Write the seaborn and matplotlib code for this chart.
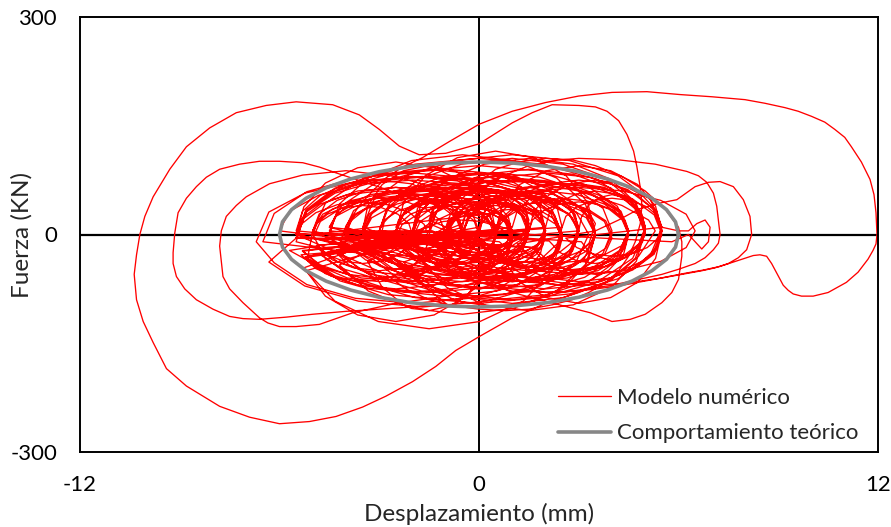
import numpy as np
import pandas as pd
import matplotlib
matplotlib.use("Agg")
import matplotlib.pyplot as plt
import seaborn as sns
from matplotlib.lines import Line2D

# Axis ticks (only the ends and zero carry a label)
x_ticks = [-12, -9, -6, -3, 0, 3, 6, 9, 12]
x_labels = ["-12", "", "", "", "0", "", "", "", "12"]
y_ticks = [-300, -200, -100, 0, 100, 200, 300]
y_labels = ["-300", "", "", "0", "", "", "300"]

# Numerical model trace in time order (mm, kN)
group_a_disp = [
    -1.0, -0.92, -0.71, -0.38, 0.0, 0.38, 0.71, 0.92, 1.0, 0.92, 0.71, 0.38, 0.0, -0.38, -0.71, -0.92,
    -1.0, -0.89, -0.56, -0.07, 0.5, 1.07, 1.56, 1.89, 2.0, 1.89, 1.56, 1.07, 0.5, -0.07, -0.56, -0.89,
    -2.5, -2.35, -1.91, -1.27, -0.5, 0.27, 0.91, 1.35, 1.5, 1.35, 0.91, 0.27, -0.5, -1.27, -1.91, -2.35,
    -2.0, -1.81, -1.27, -0.46, 0.5, 1.46, 2.27, 2.81, 3.0, 2.81, 2.27, 1.46, 0.5, -0.46, -1.27, -1.81,
    -4.0, -3.77, -3.12, -2.15, -1.0, 0.15, 1.12, 1.77, 2.0, 1.77, 1.12, 0.15, -1.0, -2.15, -3.12, -3.77,
    -2.5, -2.23, -1.47, -0.34, 1.0, 2.34, 3.47, 4.23, 4.5, 4.23, 3.47, 2.34, 1.0, -0.34, -1.47, -2.23]
group_a_force = [
    5, 16, 26, 33, 35, 33, 26, 16, 5, -6, -16, -23, -25, -23, -16, -6,
    0, 15, 28, 37, 40, 37, 28, 15, 0, -15, -28, -37, -40, -37, -28, -15,
    5, 24, 40, 51, 55, 51, 40, 24, 5, -14, -30, -41, -45, -41, -30, -14,
    0, 23, 42, 55, 60, 55, 42, 23, 0, -23, -42, -55, -60, -55, -42, -23,
    10, 33, 52, 65, 70, 65, 52, 33, 10, -13, -32, -45, -50, -45, -32, -13,
    5, 32, 54, 70, 75, 70, 54, 32, 5, -22, -44, -60, -65, -60, -44, -22]

big_left_disp = [
    -2.5, -2.2, -1.3, 0.0, 1.5, 3.0, 4.3, 5.1, 5.3, 4.8, 4.0, 3.0, 2.0, 1.0, 0.0, -0.7,
    -1.3, -2.0, -2.8, -3.5, -4.3, -5.1, -6.0, -6.9, -7.8, -8.8, -9.4, -9.8, -10.1, -10.3,
    -10.37, -10.3, -10.2, -10.05, -9.8, -9.3, -8.8, -8.1, -7.3, -6.4, -5.5, -4.4, -3.6,
    -3.0, -2.4, -1.8, -1.0, 0.0, 1.0, 1.6, 2.2, 3.0, 3.5, 3.85, 4.2, 4.45, 4.65, 4.75,
    4.85, 4.9, 4.85, 4.7, 4.5, 4.2, 3.8, 3.3, 2.8, 2.2, 1.5, 0.8, 0.0, -0.8, -1.5, -2.2, -2.8]
big_left_force = [
    5, 35, 60, 75, 72, 60, 40, 20, 5, -30, -62, -80, -95, -115, -141, -160,
    -182, -203, -223, -238, -251, -258, -261, -252, -237, -209, -185, -149, -120, -90,
    -55, -28, 0, 25, 52, 90, 121, 147, 168, 178, 183, 179, 165,
    145, 122, 110, 112, 125, 154, 168, 179, 178, 176, 170, 157, 138, 115, 93,
    65, 40, 15, -10, -30, -50, -67, -80, -90, -97, -103, -105, -103, -98, -90, -75, -55]

group_b_disp = [
    -5.5, -5.2, -4.33, -3.03, -1.5, 0.03, 1.33, 2.2, 2.5, 2.2, 1.33, 0.03, -1.5, -3.03, -4.33, -5.2,
    -1.5, -1.27, -0.62, 0.35, 1.5, 2.65, 3.62, 4.27, 4.5, 4.27, 3.62, 2.65, 1.5, 0.35, -0.62, -1.27]
group_b_force = [
    0, 31, 57, 74, 80, 74, 57, 31, 0, -31, -57, -74, -80, -74, -57, -31,
    5, 32, 54, 70, 75, 70, 54, 32, 5, -22, -44, -60, -65, -60, -44, -22]

big_right_disp = [
    -4.2, -4.0, -3.6, -3.2, -2.8, -2.3, -1.7, -0.9, 0.0, 1.0, 2.0, 3.0, 4.0, 5.05, 6.05,
    7.0, 8.0, 8.6, 9.2, 9.6, 10.0, 10.4, 10.7, 11.0, 11.2, 11.5, 11.76, 11.88, 11.94,
    11.97, 11.94, 11.85, 11.7, 11.4, 11.05, 10.5, 10.05, 9.7, 9.45, 9.3, 9.15, 8.95,
    8.8, 8.65, 8.45, 8.25, 8.05, 7.65, 7.25, 6.75, 6.25, 5.25, 4.2, 3.0, 2.0, 1.0, 0.0]
big_right_force = [
    -15, 12, 40, 60, 78, 93, 106, 128, 152, 170, 182, 191, 196, 197, 193,
    190, 186, 181, 175, 170, 163, 155, 145, 134, 121, 100, 76, 55, 30,
    0, -13, -22, -34, -52, -66, -80, -85, -85, -82, -77, -70, -53,
    -40, -30, -28, -29, -32, -38, -44, -49, -53, -62, -71, -78, -80, -75, -65]

group_c_disp = [
    -5.0, -4.77, -4.12, -3.15, -2.0, -0.85, 0.12, 0.77, 1.0, 0.77, 0.12, -0.85, -2.0, -3.15, -4.12, -4.77,
    0.0, 0.19, 0.73, 1.54, 2.5, 3.46, 4.27, 4.81, 5.0, 4.81, 4.27, 3.46, 2.5, 1.54, 0.73, 0.19,
    -4.5, -4.16, -3.18, -1.72, 0.0, 1.72, 3.18, 4.16, 4.5, 4.16, 3.18, 1.72, 0.0, -1.72, -3.18, -4.16,
    -3.0, -2.7, -1.83, -0.53, 1.0, 2.53, 3.83, 4.7, 5.0, 4.7, 3.83, 2.53, 1.0, -0.53, -1.83, -2.7]
group_c_force = [
    -5, 18, 37, 50, 55, 50, 37, 18, -5, -28, -47, -60, -65, -60, -47, -28,
    10, 33, 52, 65, 70, 65, 52, 33, 10, -13, -32, -45, -50, -45, -32, -13,
    5, 39, 69, 88, 95, 88, 69, 39, 5, -29, -59, -78, -85, -78, -59, -29,
    5, 43, 76, 97, 105, 97, 76, 43, 5, -33, -66, -87, -95, -87, -66, -33]

left_arc_1_disp = [-1.0, -2.0, -3.0, -4.0, -5.0, -5.8, -6.6, -7.1, -7.5, -8.0, -8.5, -8.85,
                   -9.1, -9.2, -9.2, -9.15, -9.05, -8.8, -8.5, -8.2, -7.8, -7.2, -6.6, -6.0,
                   -5.3, -4.8, -4.3, -3.3, -2.0, -0.5, 1.0]
left_arc_1_force = [-95, -100, -103, -106, -110, -114, -117, -116, -113, -103, -90, -75,
                    -58, -40, -25, 2, 30, 50, 66, 79, 90, 97, 101, 101,
                    99, 93, 85, 70, 50, 30, 5]

group_d_disp = [
    -5.5, -5.31, -4.77, -3.96, -3.0, -2.04, -1.23, -0.69, -0.5, -0.69, -1.23, -2.04, -3.0, -3.96, -4.77, -5.31,
    1.0, 1.15, 1.59, 2.23, 3.0, 3.77, 4.41, 4.85, 5.0, 4.85, 4.41, 3.77, 3.0, 2.23, 1.59, 1.15]
group_d_force = [
    0, 23, 42, 55, 60, 55, 42, 23, 0, -23, -42, -55, -60, -55, -42, -23,
    10, 33, 52, 65, 70, 65, 52, 33, 10, -13, -32, -45, -50, -45, -32, -13]

right_loop_1_disp = [3.5, 4.2, 4.8, 5.4, 5.95, 6.5, 6.9, 7.25, 7.65, 7.95, 8.15, 8.2, 8.05,
                     7.8, 7.5, 7.1, 6.7, 6.1, 5.5, 4.3, 3.0, 1.5]
right_loop_1_force = [5, 20, 35, 43, 48, 66, 72, 73, 66, 48, 25, 0, -21,
                      -32, -40, -46, -50, -55, -60, -68, -70, -60]

group_e_disp = [
    -4.0, -3.85, -3.41, -2.77, -2.0, -1.23, -0.59, -0.15, 0.0, -0.15, -0.59, -1.23, -2.0, -2.77, -3.41, -3.85,
    0.5, 0.61, 0.94, 1.43, 2.0, 2.57, 3.06, 3.39, 3.5, 3.39, 3.06, 2.57, 2.0, 1.43, 0.94, 0.61,
    -3.0, -2.77, -2.12, -1.15, 0.0, 1.15, 2.12, 2.77, 3.0, 2.77, 2.12, 1.15, 0.0, -1.15, -2.12, -2.77]
group_e_force = [
    0, 19, 35, 46, 50, 46, 35, 19, 0, -19, -35, -46, -50, -46, -35, -19,
    5, 20, 33, 42, 45, 42, 33, 20, 5, -10, -23, -32, -35, -32, -23, -10,
    5, 36, 62, 79, 85, 79, 62, 36, 5, -26, -52, -69, -75, -69, -52, -26]

left_arc_2_disp = [-1.0, -2.5, -3.8, -4.8, -5.5, -6.0, -6.35, -6.6, -7.1, -7.5, -7.7, -7.8,
                   -7.75, -7.6, -7.3, -7.0, -6.3, -5.3, -4.0, -2.5, -1.0, 0.5]
left_arc_2_force = [-85, -95, -108, -124, -127, -127, -122, -115, -94, -75, -58, -16,
                    5, 25, 40, 52, 70, 82, 88, 80, 60, 30]

group_f_disp = [
    -5.0, -4.85, -4.41, -3.77, -3.0, -2.23, -1.59, -1.15, -1.0, -1.15, -1.59, -2.23, -3.0, -3.77, -4.41, -4.85,
    2.0, 2.11, 2.44, 2.93, 3.5, 4.07, 4.56, 4.89, 5.0, 4.89, 4.56, 4.07, 3.5, 2.93, 2.44, 2.11]
group_f_force = [
    0, 19, 35, 46, 50, 46, 35, 19, 0, -19, -35, -46, -50, -46, -35, -19,
    10, 29, 45, 56, 60, 56, 45, 29, 10, -9, -25, -36, -40, -36, -25, -9]

right_loop_2_disp = [-1.0, -0.5, 0.0, 0.7, 1.5, 2.2, 3.0, 4.2, 5.3, 6.25, 6.6, 6.85, 7.05,
                     7.15, 7.25, 7.2, 7.05, 6.8, 6.5, 6.0, 5.5, 4.0, 2.5, 1.0, -0.5]
right_loop_2_force = [0, 35, 60, 80, 95, 102, 105, 103, 97, 87, 81, 72, 57,
                      39, 0, -12, -21, -32, -40, -48, -55, -70, -80, -78, -60]

group_g_disp = [
    -2.5, -2.39, -2.06, -1.57, -1.0, -0.43, 0.06, 0.39, 0.5, 0.39, 0.06, -0.43, -1.0, -1.57, -2.06, -2.39,
    0.0, 0.08, 0.29, 0.62, 1.0, 1.38, 1.71, 1.92, 2.0, 1.92, 1.71, 1.38, 1.0, 0.62, 0.29, 0.08,
    -5.5, -5.27, -4.62, -3.65, -2.5, -1.35, -0.38, 0.27, 0.5, 0.27, -0.38, -1.35, -2.5, -3.65, -4.62, -5.27,
    0.5, 0.69, 1.23, 2.04, 3.0, 3.96, 4.77, 5.31, 5.5, 5.31, 4.77, 3.96, 3.0, 2.04, 1.23, 0.69]
group_g_force = [
    0, 15, 28, 37, 40, 37, 28, 15, 0, -15, -28, -37, -40, -37, -28, -15,
    5, 16, 26, 33, 35, 33, 26, 16, 5, -6, -16, -23, -25, -23, -16, -6,
    -5, 22, 44, 60, 65, 60, 44, 22, -5, -32, -54, -70, -75, -70, -54, -32,
    5, 32, 54, 70, 75, 70, 54, 32, 5, -22, -44, -60, -65, -60, -44, -22]

right_loop_3_disp = [-1.0, -0.8, -0.5, 0.0, 0.5, 1.2, 2.0, 2.8, 3.5, 4.3, 5.0, 5.6, 6.0,
                     6.1, 6.1, 6.0, 5.8, 5.5, 5.0, 4.55, 4.0, 3.35, 2.5, 1.0, -0.5]
right_loop_3_force = [-10, 20, 50, 72, 90, 100, 105, 103, 95, 80, 60, 35, 10,
                      -10, -30, -62, -80, -94, -110, -117, -120, -108, -98, -80, -50]

group_h_disp = [
    -5.0, -4.62, -3.54, -1.92, 0.0, 1.92, 3.54, 4.62, 5.0, 4.62, 3.54, 1.92, 0.0, -1.92, -3.54, -4.62,
    -5.0, -4.89, -4.56, -4.07, -3.5, -2.93, -2.44, -2.11, -2.0, -2.11, -2.44, -2.93, -3.5, -4.07, -4.56, -4.89,
    2.5, 2.61, 2.94, 3.43, 4.0, 4.57, 5.06, 5.39, 5.5, 5.39, 5.06, 4.57, 4.0, 3.43, 2.94, 2.61]
group_h_force = [
    5, 43, 76, 97, 105, 97, 76, 43, 5, -33, -66, -87, -95, -87, -66, -33,
    0, 15, 28, 37, 40, 37, 28, 15, 0, -15, -28, -37, -40, -37, -28, -15,
    10, 25, 38, 47, 50, 47, 38, 25, 10, -5, -18, -27, -30, -27, -18, -5]

right_small_disp = [5.5, 6.0, 6.3, 6.55, 6.8, 6.95, 6.9, 6.7, 6.5, 6.3, 5.8]
right_small_force = [10, 5, 5, 15, 20, 10, -10, -20, -10, 0, -10]

group_i_disp = [
    -0.5, -0.23, 0.53, 1.66, 3.0, 4.34, 5.47, 6.23, 6.5, 6.23, 5.47, 4.34, 3.0, 1.66, 0.53, -0.23,
    -3.5, -3.31, -2.77, -1.96, -1.0, -0.04, 0.77, 1.31, 1.5, 1.31, 0.77, -0.04, -1.0, -1.96, -2.77, -3.31,
    -1.0, -0.81, -0.27, 0.54, 1.5, 2.46, 3.27, 3.81, 4.0, 3.81, 3.27, 2.46, 1.5, 0.54, -0.27, -0.81,
    -3.0, -2.73, -1.97, -0.84, 0.5, 1.84, 2.97, 3.73, 4.0, 3.73, 2.97, 1.84, 0.5, -0.84, -1.97, -2.73,
    -5.5, -5.23, -4.47, -3.34, -2.0, -0.66, 0.47, 1.23, 1.5, 1.23, 0.47, -0.66, -2.0, -3.34, -4.47, -5.23,
    -1.5, -1.23, -0.47, 0.66, 2.0, 3.34, 4.47, 5.23, 5.5, 5.23, 4.47, 3.34, 2.0, 0.66, -0.47, -1.23,
    -3.5, -3.16, -2.18, -0.72, 1.0, 2.72, 4.18, 5.16, 5.5, 5.16, 4.18, 2.72, 1.0, -0.72, -2.18, -3.16]
group_i_force = [
    5, 28, 47, 60, 65, 60, 47, 28, 5, -18, -37, -50, -55, -50, -37, -18,
    5, 28, 47, 60, 65, 60, 47, 28, 5, -18, -37, -50, -55, -50, -37, -18,
    0, 19, 35, 46, 50, 46, 35, 19, 0, -19, -35, -46, -50, -46, -35, -19,
    5, 36, 62, 79, 85, 79, 62, 36, 5, -26, -52, -69, -75, -69, -52, -26,
    0, 31, 57, 74, 80, 74, 57, 31, 0, -31, -57, -74, -80, -74, -57, -31,
    5, 36, 62, 79, 85, 79, 62, 36, 5, -26, -52, -69, -75, -69, -52, -26,
    10, 48, 81, 102, 110, 102, 81, 48, 10, -28, -61, -82, -90, -82, -61, -28]

group_j_disp = [
    -6.5, -6.16, -5.18, -3.72, -2.0, -0.28, 1.18, 2.16, 2.5, 2.16, 1.18, -0.28, -2.0, -3.72, -5.18, -6.16,
    -6.7, -6.32, -5.24, -3.62, -1.7, 0.22, 1.84, 2.92, 3.3, 2.92, 1.84, 0.22, -1.7, -3.62, -5.24, -6.32,
    -5.5, -5.16, -4.18, -2.72, -1.0, 0.72, 2.18, 3.16, 3.5, 3.16, 2.18, 0.72, -1.0, -2.72, -4.18, -5.16,
    -5.0, -4.81, -4.27, -3.46, -2.5, -1.54, -0.73, -0.19, 0.0, -0.19, -0.73, -1.54, -2.5, -3.46, -4.27, -4.81,
    -5.5, -5.2, -4.33, -3.03, -1.5, 0.03, 1.33, 2.2, 2.5, 2.2, 1.33, 0.03, -1.5, -3.03, -4.33, -5.2]
group_j_force = [
    -10, 29, 59, 78, 85, 78, 59, 29, -5, -39, -69, -88, -95, -88, -69, -39,
    -10, 31, 57, 74, 80, 74, 57, 31, 0, -38, -71, -92, -100, -92, -71, -38,
    -5, 34, 64, 83, 90, 83, 64, 34, 0, -34, -64, -83, -90, -83, -64, -34,
    5, 28, 47, 60, 65, 60, 47, 28, 5, -18, -37, -50, -55, -50, -37, -18,
    -10, 34, 64, 83, 90, 83, 64, 34, 0, -50, -92, -120, -130, -120, -92, -50]

group_k_disp = [
    -1.0, -0.89, -0.56, -0.07, 0.5, 1.07, 1.56, 1.89, 2.0, 1.89, 1.56, 1.07, 0.5, -0.07, -0.56, -0.89,
    -2.5, -2.35, -1.91, -1.27, -0.5, 0.27, 0.91, 1.35, 1.5, 1.35, 0.91, 0.27, -0.5, -1.27, -1.91, -2.35,
    -2.5, -2.31, -1.77, -0.96, 0.0, 0.96, 1.77, 2.31, 2.5, 2.31, 1.77, 0.96, 0.0, -0.96, -1.77, -2.31,
    -1.0, -0.85, -0.41, 0.23, 1.0, 1.77, 2.41, 2.85, 3.0, 2.85, 2.41, 1.77, 1.0, 0.23, -0.41, -0.85,
    -4.0, -3.81, -3.27, -2.46, -1.5, -0.54, 0.27, 0.81, 1.0, 0.81, 0.27, -0.54, -1.5, -2.46, -3.27, -3.81,
    -0.5, -0.35, 0.09, 0.73, 1.5, 2.27, 2.91, 3.35, 3.5, 3.35, 2.91, 2.27, 1.5, 0.73, 0.09, -0.35,
    -3.5, -3.27, -2.62, -1.65, -0.5, 0.65, 1.62, 2.27, 2.5, 2.27, 1.62, 0.65, -0.5, -1.65, -2.62, -3.27,
    -0.5, -0.42, -0.21, 0.12, 0.5, 0.88, 1.21, 1.42, 1.5, 1.42, 1.21, 0.88, 0.5, 0.12, -0.21, -0.42,
    -1.5, -1.42, -1.21, -0.88, -0.5, -0.12, 0.21, 0.42, 0.5, 0.42, 0.21, -0.12, -0.5, -0.88, -1.21, -1.42]
group_k_force = [
    5, 20, 33, 42, 45, 42, 33, 20, 5, -10, -23, -32, -35, -32, -23, -10,
    10, 25, 38, 47, 50, 47, 38, 25, 10, -5, -18, -27, -30, -27, -18, -5,
    -5, 14, 30, 41, 45, 41, 30, 14, -5, -24, -40, -51, -55, -51, -40, -24,
    10, 29, 45, 56, 60, 56, 45, 29, 10, -9, -25, -36, -40, -36, -25, -9,
    5, 24, 40, 51, 55, 51, 40, 24, 5, -14, -30, -41, -45, -41, -30, -14,
    0, 23, 42, 55, 60, 55, 42, 23, 0, -23, -42, -55, -60, -55, -42, -23,
    0, 27, 49, 65, 70, 65, 49, 27, 0, -27, -49, -65, -70, -65, -49, -27,
    10, 25, 38, 47, 50, 47, 38, 25, 10, -5, -18, -27, -30, -27, -18, -5,
    0, 11, 21, 28, 30, 28, 21, 11, 0, -11, -21, -28, -30, -28, -21, -11]

group_p_disp = [
    -4.5, -4.2, -3.33, -2.03, -0.5, 1.03, 2.33, 3.2, 3.5, 3.2, 2.33, 1.03, -0.5, -2.03, -3.33, -4.2,
    -2.0, -1.73, -0.97, 0.16, 1.5, 2.84, 3.97, 4.73, 5.0, 4.73, 3.97, 2.84, 1.5, 0.16, -0.97, -1.73,
    -5.5, -5.27, -4.62, -3.65, -2.5, -1.35, -0.38, 0.27, 0.5, 0.27, -0.38, -1.35, -2.5, -3.65, -4.62, -5.27,
    -2.5, -2.27, -1.62, -0.65, 0.5, 1.65, 2.62, 3.27, 3.5, 3.27, 2.62, 1.65, 0.5, -0.65, -1.62, -2.27,
    0.5, 0.69, 1.23, 2.04, 3.0, 3.96, 4.77, 5.31, 5.5, 5.31, 4.77, 3.96, 3.0, 2.04, 1.23, 0.69,
    -3.5, -3.35, -2.91, -2.27, -1.5, -0.73, -0.09, 0.35, 0.5, 0.35, -0.09, -0.73, -1.5, -2.27, -2.91, -3.35,
    -0.5, -0.42, -0.21, 0.12, 0.5, 0.88, 1.21, 1.42, 1.5, 1.42, 1.21, 0.88, 0.5, 0.12, -0.21, -0.42,
    -2.0, -1.89, -1.56, -1.07, -0.5, 0.07, 0.56, 0.89, 1.0, 0.89, 0.56, 0.07, -0.5, -1.07, -1.56, -1.89,
    0.5, 0.58, 0.79, 1.12, 1.5, 1.88, 2.21, 2.42, 2.5, 2.42, 2.21, 1.88, 1.5, 1.12, 0.79, 0.58,
    -1.5, -1.39, -1.06, -0.57, 0.0, 0.57, 1.06, 1.39, 1.5, 1.39, 1.06, 0.57, 0.0, -0.57, -1.06, -1.39]
group_p_force = [
    0, 42, 78, 102, 110, 102, 78, 42, 0, -42, -78, -102, -110, -102, -78, -42,
    5, 43, 76, 97, 105, 97, 76, 43, 5, -37, -73, -97, -105, -97, -73, -37,
    0, 38, 71, 92, 100, 92, 71, 38, 0, -46, -85, -111, -120, -111, -85, -46,
    0, 44, 81, 106, 115, 106, 81, 44, 0, -38, -71, -92, -100, -92, -71, -38,
    5, 39, 69, 88, 95, 88, 69, 39, 5, -33, -66, -87, -95, -87, -66, -33,
    5, 39, 69, 88, 95, 88, 69, 39, 5, -37, -73, -97, -105, -97, -73, -37,
    15, 26, 36, 43, 45, 43, 36, 26, 15, 4, -6, -13, -15, -13, -6, 4,
    -10, 1, 11, 18, 20, 18, 11, 1, -10, -21, -31, -38, -40, -38, -31, -21,
    -5, 10, 23, 32, 35, 32, 23, 10, -5, -20, -33, -42, -45, -42, -33, -20,
    20, 35, 48, 57, 60, 57, 48, 35, 20, 5, -8, -17, -20, -17, -8, 5]

group_m_disp = [
    -4.0, -3.73, -2.97, -1.84, -0.5, 0.84, 1.97, 2.73, 3.0, 2.73, 1.97, 0.84, -0.5, -1.84, -2.97, -3.73,
    -2.0, -1.73, -0.97, 0.16, 1.5, 2.84, 3.97, 4.73, 5.0, 4.73, 3.97, 2.84, 1.5, 0.16, -0.97, -1.73,
    -4.5, -4.27, -3.62, -2.65, -1.5, -0.35, 0.62, 1.27, 1.5, 1.27, 0.62, -0.35, -1.5, -2.65, -3.62, -4.27,
    -1.5, -1.35, -0.91, -0.27, 0.5, 1.27, 1.91, 2.35, 2.5, 2.35, 1.91, 1.27, 0.5, -0.27, -0.91, -1.35,
    -4.5, -4.35, -3.91, -3.27, -2.5, -1.73, -1.09, -0.65, -0.5, -0.65, -1.09, -1.73, -2.5, -3.27, -3.91, -4.35,
    0.5, 0.65, 1.09, 1.73, 2.5, 3.27, 3.91, 4.35, 4.5, 4.35, 3.91, 3.27, 2.5, 1.73, 1.09, 0.65,
    -1.5, -1.39, -1.06, -0.57, 0.0, 0.57, 1.06, 1.39, 1.5, 1.39, 1.06, 0.57, 0.0, -0.57, -1.06, -1.39,
    -3.0, -2.85, -2.41, -1.77, -1.0, -0.23, 0.41, 0.85, 1.0, 0.85, 0.41, -0.23, -1.0, -1.77, -2.41, -2.85]
group_m_force = [
    5, 28, 47, 60, 65, 60, 47, 28, 5, -22, -44, -60, -65, -60, -44, -22,
    0, 34, 64, 83, 90, 83, 64, 34, 0, -23, -42, -55, -60, -55, -42, -23,
    10, 29, 45, 56, 60, 56, 45, 29, 10, -21, -47, -64, -70, -64, -47, -21,
    10, 37, 59, 75, 80, 75, 59, 37, 10, -13, -32, -45, -50, -45, -32, -13,
    0, 23, 42, 55, 60, 55, 42, 23, 0, -23, -42, -55, -60, -55, -42, -23,
    0, 19, 35, 46, 50, 46, 35, 19, 0, -27, -49, -65, -70, -65, -49, -27,
    15, 34, 50, 61, 65, 61, 50, 34, 15, -4, -20, -31, -35, -31, -20, -4,
    -10, 17, 39, 55, 60, 55, 39, 17, -10, -29, -45, -56, -60, -56, -45, -29]

group_n_disp = [
    -1.5, -1.31, -0.77, 0.04, 1.0, 1.96, 2.77, 3.31, 3.5, 3.31, 2.77, 1.96, 1.0, 0.04, -0.77, -1.31,
    -5.5, -5.31, -4.77, -3.96, -3.0, -2.04, -1.23, -0.69, -0.5, -0.69, -1.23, -2.04, -3.0, -3.96, -4.77, -5.31,
    1.5, 1.65, 2.09, 2.73, 3.5, 4.27, 4.91, 5.35, 5.5, 5.35, 4.91, 4.27, 3.5, 2.73, 2.09, 1.65,
    -3.5, -3.23, -2.47, -1.34, 0.0, 1.34, 2.47, 3.23, 3.5, 3.23, 2.47, 1.34, 0.0, -1.34, -2.47, -3.23,
    -2.0, -1.89, -1.56, -1.07, -0.5, 0.07, 0.56, 0.89, 1.0, 0.89, 0.56, 0.07, -0.5, -1.07, -1.56, -1.89,
    0.0, 0.11, 0.44, 0.93, 1.5, 2.07, 2.56, 2.89, 3.0, 2.89, 2.56, 2.07, 1.5, 0.93, 0.44, 0.11,
    -4.5, -4.31, -3.77, -2.96, -2.0, -1.04, -0.23, 0.31, 0.5, 0.31, -0.23, -1.04, -2.0, -2.96, -3.77, -4.31,
    -0.5, -0.31, 0.23, 1.04, 2.0, 2.96, 3.77, 4.31, 4.5, 4.31, 3.77, 2.96, 2.0, 1.04, 0.23, -0.31]
group_n_force = [
    15, 30, 43, 52, 55, 52, 43, 30, 15, -12, -34, -50, -55, -50, -34, -12,
    5, 32, 54, 70, 75, 70, 54, 32, 5, -22, -44, -60, -65, -60, -44, -22,
    5, 32, 54, 70, 75, 70, 54, 32, 5, -18, -37, -50, -55, -50, -37, -18,
    0, 23, 42, 55, 60, 55, 42, 23, 0, -23, -42, -55, -60, -55, -42, -23,
    0, 23, 42, 55, 60, 55, 42, 23, 0, -15, -28, -37, -40, -37, -28, -15,
    5, 28, 47, 60, 65, 60, 47, 28, 5, -14, -30, -41, -45, -41, -30, -14,
    10, 25, 38, 47, 50, 47, 38, 25, 10, -5, -18, -27, -30, -27, -18, -5,
    0, 23, 42, 55, 60, 55, 42, 23, 0, -15, -28, -37, -40, -37, -28, -15]

group_o_disp = [
    -3.5, -3.2, -2.33, -1.03, 0.5, 2.03, 3.33, 4.2, 4.5, 4.2, 3.33, 2.03, 0.5, -1.03, -2.33, -3.2,
    -5.0, -4.7, -3.83, -2.53, -1.0, 0.53, 1.83, 2.7, 3.0, 2.7, 1.83, 0.53, -1.0, -2.53, -3.83, -4.7,
    0.0, 0.08, 0.29, 0.62, 1.0, 1.38, 1.71, 1.92, 2.0, 1.92, 1.71, 1.38, 1.0, 0.62, 0.29, 0.08,
    -2.5, -2.42, -2.21, -1.88, -1.5, -1.12, -0.79, -0.58, -0.5, -0.58, -0.79, -1.12, -1.5, -1.88, -2.21, -2.42,
    1.5, 1.61, 1.94, 2.43, 3.0, 3.57, 4.06, 4.39, 4.5, 4.39, 4.06, 3.57, 3.0, 2.43, 1.94, 1.61,
    -5.5, -5.35, -4.91, -4.27, -3.5, -2.73, -2.09, -1.65, -1.5, -1.65, -2.09, -2.73, -3.5, -4.27, -4.91, -5.35,
    3.0, 3.08, 3.29, 3.62, 4.0, 4.38, 4.71, 4.92, 5.0, 4.92, 4.71, 4.38, 4.0, 3.62, 3.29, 3.08,
    -2.0, -1.85, -1.41, -0.77, 0.0, 0.77, 1.41, 1.85, 2.0, 1.85, 1.41, 0.77, 0.0, -0.77, -1.41, -1.85]
group_o_force = [
    0, 31, 57, 74, 80, 74, 57, 31, 0, -34, -64, -83, -90, -83, -64, -34,
    5, 28, 47, 60, 65, 60, 47, 28, 5, -29, -59, -78, -85, -78, -59, -29,
    0, 15, 28, 37, 40, 37, 28, 15, 0, -15, -28, -37, -40, -37, -28, -15,
    5, 20, 33, 42, 45, 42, 33, 20, 5, -6, -16, -23, -25, -23, -16, -6,
    5, 20, 33, 42, 45, 42, 33, 20, 5, -18, -37, -50, -55, -50, -37, -18,
    -5, 14, 30, 41, 45, 41, 30, 14, -5, -28, -47, -60, -65, -60, -47, -28,
    5, 24, 40, 51, 55, 51, 40, 24, 5, -10, -23, -32, -35, -32, -23, -10,
    5, 36, 62, 79, 85, 79, 62, 36, 5, -26, -52, -69, -75, -69, -52, -26]

group_l_disp = [
    -0.5, -0.27, 0.38, 1.35, 2.5, 3.65, 4.62, 5.27, 5.5, 5.27, 4.62, 3.65, 2.5, 1.35, 0.38, -0.27,
    -6.0, -5.7, -4.83, -3.53, -2.0, -0.47, 0.83, 1.7, 2.0, 1.7, 0.83, -0.47, -2.0, -3.53, -4.83, -5.7,
    -2.0, -1.85, -1.41, -0.77, 0.0, 0.77, 1.41, 1.85, 2.0, 1.85, 1.41, 0.77, 0.0, -0.77, -1.41, -1.85,
    -2.0, -1.77, -1.12, -0.15, 1.0, 2.15, 3.12, 3.77, 4.0, 3.77, 3.12, 2.15, 1.0, -0.15, -1.12, -1.77,
    -3.0, -2.85, -2.41, -1.77, -1.0, -0.23, 0.41, 0.85, 1.0, 0.85, 0.41, -0.23, -1.0, -1.77, -2.41, -2.85,
    -1.0, -0.92, -0.71, -0.38, 0.0, 0.38, 0.71, 0.92, 1.0, 0.92, 0.71, 0.38, 0.0, -0.38, -0.71, -0.92, -1.0]
group_l_force = [
    0, 27, 49, 65, 70, 65, 49, 27, 0, -27, -49, -65, -70, -65, -49, -27,
    5, 32, 54, 70, 75, 70, 54, 32, 5, -22, -44, -60, -65, -60, -44, -22,
    5, 28, 47, 60, 65, 60, 47, 28, 5, -18, -37, -50, -55, -50, -37, -18,
    -5, 18, 37, 50, 55, 50, 37, 18, -5, -28, -47, -60, -65, -60, -47, -28,
    5, 20, 33, 42, 45, 42, 33, 20, 5, -10, -23, -32, -35, -32, -23, -10,
    0, 11, 21, 28, 30, 28, 21, 11, 0, -11, -21, -28, -30, -28, -21, -11, 0]

# Theoretical behaviour: ellipse of +-6 mm and +-100 kN
theory_disp = [6.0, 5.91, 5.64, 5.2, 4.6, 3.86, 3.0, 2.05, 1.04, 0.0, -1.04, -2.05, -3.0,
               -3.86, -4.6, -5.2, -5.64, -5.91, -6.0, -5.91, -5.64, -5.2, -4.6, -3.86, -3.0,
               -2.05, -1.04, 0.0, 1.04, 2.05, 3.0, 3.86, 4.6, 5.2, 5.64, 5.91, 6.0]
theory_force = [0, 17.4, 34.2, 50, 64.3, 76.6, 86.6, 94, 98.5, 100, 98.5, 94, 86.6,
                76.6, 64.3, 50, 34.2, 17.4, 0, -17.4, -34.2, -50, -64.3, -76.6, -86.6,
                -94, -98.5, -100, -98.5, -94, -86.6, -76.6, -64.3, -50, -34.2, -17.4, 0]

pieces = [(group_a_disp, group_a_force), (big_left_disp, big_left_force),
          (group_b_disp, group_b_force), (big_right_disp, big_right_force),
          (group_c_disp, group_c_force), (left_arc_1_disp, left_arc_1_force),
          (group_d_disp, group_d_force), (right_loop_1_disp, right_loop_1_force),
          (group_e_disp, group_e_force), (left_arc_2_disp, left_arc_2_force),
          (group_f_disp, group_f_force), (right_loop_2_disp, right_loop_2_force),
          (group_g_disp, group_g_force), (right_loop_3_disp, right_loop_3_force),
          (group_h_disp, group_h_force), (right_small_disp, right_small_force),
          (group_i_disp, group_i_force), (group_j_disp, group_j_force),
          (group_k_disp, group_k_force), (group_p_disp, group_p_force),
          (group_m_disp, group_m_force), (group_n_disp, group_n_force),
          (group_o_disp, group_o_force), (group_l_disp, group_l_force)]
for d, f in pieces:
    assert len(d) == len(f), (len(d), len(f))

model = pd.DataFrame({"disp": np.concatenate([p[0] for p in pieces]),
                      "force": np.concatenate([p[1] for p in pieces])})
theory = pd.DataFrame({"disp": theory_disp, "force": theory_force})

sns.set_style("white")
plt.rcParams["font.family"] = ["Lato", "DejaVu Sans"]

fig = plt.figure(figsize=(8.91, 5.27), dpi=100)
ax = fig.add_axes([80 / 891, 1 - 452 / 527, 798 / 891, 435 / 527])

ax.axhline(0, color="black", lw=1.6, zorder=1)
ax.axvline(0, color="black", lw=1.4, zorder=1)

sns.lineplot(data=model, x="disp", y="force", sort=False, estimator=None,
             color="#ff0000", lw=0.95, ax=ax, zorder=2)
sns.lineplot(data=theory, x="disp", y="force", sort=False, estimator=None,
             color="#878787", lw=2.6, ax=ax, zorder=3)

ax.set_xlim(-12, 12)
ax.set_ylim(-300, 300)
ax.set_xticks(x_ticks)
ax.set_xticklabels(x_labels)
ax.set_yticks(y_ticks)
ax.set_yticklabels(y_labels)
ax.tick_params(direction="inout", length=9, width=1.4, colors="black",
               labelsize=16, pad=12)
for s in ax.spines.values():
    s.set_color("black")
    s.set_linewidth(1.4)
ax.set_xlabel("")
ax.set_ylabel("")

fig.text(479 / 891, 1 - 514 / 527, "Desplazamiento (mm)", ha="center", va="center", fontsize=17.5)
fig.text(22 / 891, 1 - 235 / 527, "Fuerza (KN)", ha="center", va="center",
         rotation=90, fontsize=17.5)

handles = [Line2D([], [], color="#ff0000", lw=0.95),
           Line2D([], [], color="#878787", lw=2.6)]
ax.legend(handles, ["Modelo numérico", "Comportamiento teórico"], loc="lower right",
          bbox_to_anchor=(0.975, 0.02), frameon=False, fontsize=16, handlelength=2.4,
          handletextpad=0.25, labelspacing=0.7, borderpad=0, borderaxespad=0)

fig.savefig("out.png", dpi=100)
